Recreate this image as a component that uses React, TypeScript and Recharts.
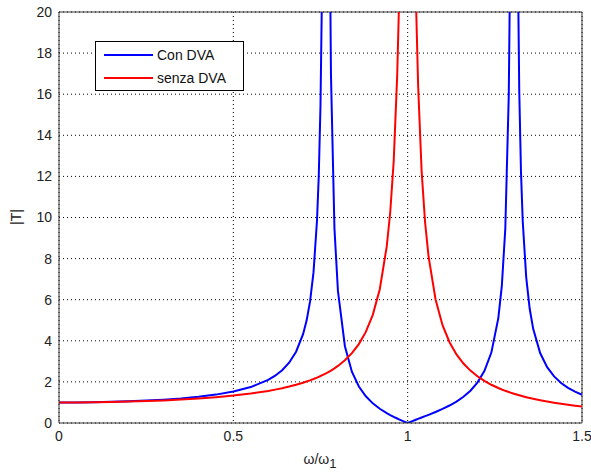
import React from 'react';
import { LineChart, Line, XAxis, YAxis, CartesianGrid, ReferenceLine } from 'recharts';

// frequency ratio samples (denser near the resonance peaks)
const ratio = [
  0, 0.05, 0.1, 0.15, 0.2, 0.25, 0.3, 0.35, 0.4, 0.45, 0.5, 0.55, 0.6, 0.62, 0.64, 0.66, 0.68,
  0.7, 0.71, 0.72, 0.73, 0.74, 0.745, 0.75, 0.755, 0.76, 0.766, 0.77, 0.775, 0.78, 0.79, 0.8,
  0.82, 0.84, 0.86, 0.88, 0.9, 0.92, 0.94, 0.95, 0.96, 0.97, 0.975, 0.98, 0.99, 1.0, 1.01, 1.02,
  1.025, 1.03, 1.04, 1.05, 1.06, 1.08, 1.1, 1.12, 1.14, 1.16, 1.18, 1.2, 1.22, 1.24, 1.26, 1.27,
  1.28, 1.29, 1.295, 1.3, 1.305, 1.31, 1.315, 1.32, 1.325, 1.33, 1.34, 1.35, 1.36, 1.38, 1.4,
  1.42, 1.44, 1.46, 1.48, 1.5,
];

// |T| with the absorber
const conDva = [
  1, 1.0032, 1.0131, 1.03, 1.0549, 1.0891, 1.1347, 1.1947, 1.2743, 1.3815, 1.5306, 1.7491, 2.097,
  2.3015, 2.5693, 2.9361, 3.4703, 4.322, 4.9724, 5.9017, 7.3399, 9.8635, 12.012, 15.47, 21.97,
  38.69, 675, 65.5, 27.2, 16.96, 9.471, 6.4286, 3.7365, 2.4959, 1.7754, 1.299, 0.9557, 0.6923,
  0.4796, 0.3866, 0.3002, 0.2194, 0.1807, 0.143, 0.0701, 0, 0.068, 0.1346, 0.1676, 0.2004, 0.2658,
  0.3315, 0.398, 0.5358, 0.6845, 0.8507, 1.0435, 1.2763, 1.5708, 1.9643, 2.5292, 3.4265, 5.1036,
  6.6554, 9.4458, 15.98, 24.2, 49.29, 1921, 47.33, 24.07, 16.19, 12.22, 9.829, 7.087, 5.558, 4.582,
  3.404, 2.718, 2.2672, 1.9475, 1.7084, 1.5226, 1.3736,
];

// |T| without the absorber
const senzaDva = [
  1, 1.0025, 1.0101, 1.023, 1.0417, 1.0667, 1.0989, 1.1396, 1.1905, 1.2539, 1.3333, 1.4337, 1.5625,
  1.6244, 1.6938, 1.7718, 1.8601, 1.9608, 2.0165, 2.0764, 2.1409, 2.2104, 2.2473, 2.2857, 2.3257,
  2.3674, 2.4199, 2.4564, 2.5039, 2.5536, 2.6603, 2.7778, 3.0525, 3.3967, 3.8402, 4.4326, 5.2632,
  6.5104, 8.591, 10.256, 12.755, 16.92, 20.25, 25.25, 50.25, null, 49.75, 24.75, 19.75, 16.42,
  12.255, 9.756, 8.091, 6.0096, 4.7619, 3.9308, 3.3378, 2.8935, 2.5484, 2.2727, 2.0475, 1.8601,
  1.7018, 1.6316, 1.5664, 1.5058, 1.4771, 1.4493, 1.4224, 1.3965, 1.3713, 1.347, 1.3234, 1.3005,
  1.2569, 1.2158, 1.177, 1.1057, 1.0417, 0.9839, 0.9314, 0.8837, 0.8401, 0.8,
];

const xTicks = [0, 0.5, 1, 1.5];
const yTicks = [0, 2, 4, 6, 8, 10, 12, 14, 16, 18, 20];

const data = ratio.map((x, i) => ({ x, con: conDva[i], senza: senzaDva[i] }));

const font = '"Liberation Sans", Arial, sans-serif';
const tickStyle = { fontSize: 14, fill: '#222', fontFamily: font };

const LegendBox = () => (
  <div
    style={{
      position: 'absolute',
      left: 95,
      top: 41,
      border: '1px solid #000',
      background: '#fff',
      width: 149,
      height: 50,
      fontFamily: font,
      fontSize: 14,
      color: '#111',
      boxSizing: 'border-box',
      padding: '1px 0 0 8px',
    }}
  >
    <div style={{ display: 'flex', alignItems: 'center', height: 23 }}>
      <span style={{ width: 49, height: 2, background: '#0000ff', marginRight: 4 }} />
      Con DVA
    </div>
    <div style={{ display: 'flex', alignItems: 'center', height: 23 }}>
      <span style={{ width: 49, height: 2, background: '#ff0000', marginRight: 4 }} />
      senza DVA
    </div>
  </div>
);

export default function App() {
  return (
    <div style={{ position: 'absolute', left: 0, top: 0, width: 591, height: 472, background: '#fff' }}>
      <LineChart width={591} height={472} data={data} margin={{ top: 12, right: 9, left: 0, bottom: 0 }}>
        <CartesianGrid stroke="#000" strokeDasharray="1 3" horizontalValues={yTicks} verticalValues={xTicks} />
        <XAxis
          type="number"
          dataKey="x"
          domain={[0, 1.5]}
          ticks={xTicks}
          tickLine={false}
          tickSize={6}
          tickMargin={2}
          height={49}
          stroke="#333"
          tick={tickStyle}
        />
        <YAxis
          type="number"
          domain={[0, 20]}
          ticks={yTicks}
          allowDataOverflow
          tickLine={false}
          tickSize={6}
          tickMargin={1}
          width={59}
          stroke="#333"
          tick={tickStyle}
        />
        <ReferenceLine y={20} stroke="#333" strokeWidth={1} />
        <ReferenceLine x={1.5} stroke="#333" strokeWidth={1} />
        <Line type="linear" dataKey="con" stroke="#0000ff" strokeWidth={2} dot={false} isAnimationActive={false} />
        <Line type="linear" dataKey="senza" stroke="#ff0000" strokeWidth={2} dot={false} isAnimationActive={false} />
      </LineChart>
      <LegendBox />
      <div
        style={{
          position: 'absolute',
          left: 0,
          top: 451,
          width: 640,
          textAlign: 'center',
          fontFamily: font,
          fontSize: 14,
          color: '#222',
        }}
      >
        ω/ω<sub style={{ fontSize: 13 }}>1</sub>
      </div>
      <div
        style={{
          position: 'absolute',
          left: 16,
          top: 217,
          transform: 'translate(-50%, -50%) rotate(-90deg)',
          fontFamily: font,
          fontSize: 14,
          color: '#222',
          whiteSpace: 'nowrap',
        }}
      >
        |T|
      </div>
    </div>
  );
}
